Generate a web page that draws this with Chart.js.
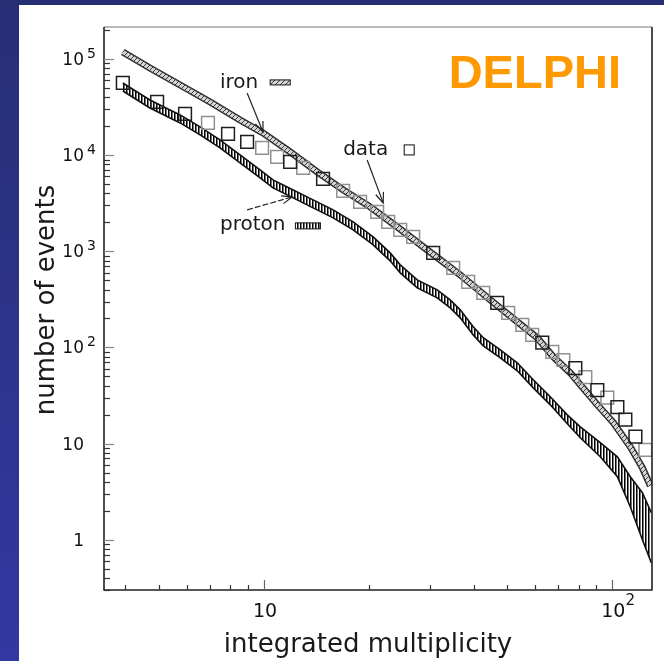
<!DOCTYPE html>
<html>
<head>
<meta charset="utf-8">
<title>DELPHI - integrated multiplicity</title>
<script src="https://cdn.jsdelivr.net/npm/chart.js@4.4.1/dist/chart.umd.min.js"></script>
<style>
  html, body { margin:0; padding:0; background:#2a3380; overflow:hidden; }
  canvas { display:block; }
</style>
</head>
<body>
<canvas id="chart" width="664" height="661"></canvas>
<script>
// ---------- data ----------
const ironX = [3.93, 4.70, 5.74, 7.00, 8.53, 9.93, 11.88, 14.20, 16.87, 20.16, 24.12, 29.40, 36.58, 44.61, 53.33, 60.87, 67.68, 75.75, 80.91, 90.56, 100.7, 112.6, 122.0, 128.6];
const ironY = [118200, 80600, 53660, 35730, 23220, 17010, 10800, 6690, 4346, 2894, 1793, 1034, 568, 312, 184.6, 125.8, 79.9, 54.4, 40.9, 25.3, 16.45, 9.26, 5.60, 3.64];

const protonX = [3.93, 4.70, 5.74, 6.55, 7.47, 8.53, 9.74, 10.61, 11.65, 13.29, 15.79, 18.02, 20.57, 23.02, 24.60, 27.53, 31.42, 34.23, 36.58, 39.86, 42.60, 47.68, 53.33, 59.29, 66.34, 74.26, 80.91, 92.35, 103.4, 112.6, 122.0, 129.4];
const protonHigh = [56300, 37480, 26180, 19650, 14390, 10050, 7020, 5524, 4670, 3677, 2694, 2021, 1411, 962, 722, 504, 397, 312, 246, 164, 126, 94.4, 69.2, 46.1, 30.7, 19.9, 14.9, 10.2, 7.29, 4.52, 3.08, 1.91];
const protonLow = [46490, 30950, 21610, 16220, 11880, 8297, 5794, 4560, 3857, 3036, 2225, 1669, 1165, 795, 596, 416, 328, 258, 203, 135, 104, 78.0, 57.1, 38.0, 25.3, 16.1, 11.5, 7.29, 4.52, 2.20, 1.00, 0.577];

const dataBlackX = [3.93, 4.93, 5.93, 7.88, 8.94, 11.88, 14.77, 30.59, 46.72, 62.93, 78.30, 90.56, 103.4, 109.0, 116.5];
const dataBlackY = [56300, 35700, 26800, 16600, 13700, 8490, 5660, 962, 291, 112, 61, 36, 24, 17.7, 11.8];
const dataGreyX = [6.90, 9.87, 10.90, 12.95, 16.87, 18.87, 21.12, 22.72, 24.60, 26.80, 34.92, 38.57, 42.60, 50.24, 55.13, 58.89, 67.24, 72.32, 83.66, 96.74, 124.4];
const dataGreyY = [21600, 11900, 9580, 7360, 4250, 3260, 2570, 2020, 1670, 1410, 671, 481, 370, 229, 172, 135, 90, 74, 49, 30, 8.6];

// tick labels
const yTickValues = [1, 10, 100, 1000, 10000, 100000];
const yTickBase = ['1', '10', '10', '10', '10', '10'];
const yTickExp = ['', '', '2', '3', '4', '5'];
const xTickValues = [10, 100];
const xTickBase = ['10', '10'];
const xTickExp = ['', '2'];

// annotations (in data coordinates)
const noteText = ['iron', 'data', 'proton'];
const noteX = [7.47, 16.87, 7.47];
const noteY = [50000, 10050, 1669];
const arrowFromX = [8.94, 19.77, 8.94];
const arrowFromY = [44330, 8913, 2694];
const arrowToX = [9.93, 21.98, 12.04];
const arrowToY = [17420, 3186, 3677];

const xTitle = 'integrated multiplicity';
const yTitle = 'number of events';
const badge = 'DELPHI';

// ---------- rendering ----------
const FONT = '"DejaVu Sans", "Liberation Sans", sans-serif';
const canvas = document.getElementById('chart');
const mainCtx = canvas.getContext('2d');

function pts(xs, ys) { return xs.map((x, i) => ({ x: x, y: ys[i] })); }

function makePattern(kind) {
  const p = document.createElement('canvas');
  const g = p.getContext('2d');
  if (kind === 'vert') {
    p.width = 3; p.height = 3;
    g.fillStyle = '#ffffff'; g.fillRect(0, 0, 3, 3);
    g.fillStyle = '#000000'; g.fillRect(0, 0, 1, 3);
    g.fillStyle = '#777777'; g.fillRect(1, 0, 1, 3);
  } else {
    p.width = 5; p.height = 5;
    g.fillStyle = '#d6d6d6'; g.fillRect(0, 0, 5, 5);
    g.strokeStyle = '#3a3a3a'; g.lineWidth = 1;
    g.beginPath();
    g.moveTo(0, 5); g.lineTo(5, 0);
    g.moveTo(-1, 1); g.lineTo(1, -1);
    g.moveTo(4, 6); g.lineTo(6, 4);
    g.stroke();
  }
  return mainCtx.createPattern(p, 'repeat');
}
const vertPattern = makePattern('vert');
const diagPattern = makePattern('diag');

function arrow(c, x1, y1, x2, y2, dash) {
  c.save();
  c.strokeStyle = '#222'; c.lineWidth = 1.2;
  if (dash) c.setLineDash(dash);
  c.beginPath(); c.moveTo(x1, y1); c.lineTo(x2, y2); c.stroke();
  c.setLineDash([]);
  const a = Math.atan2(y2 - y1, x2 - x1), L = 11, w = 0.38;
  c.beginPath();
  c.moveTo(x2 - L * Math.cos(a - w), y2 - L * Math.sin(a - w));
  c.lineTo(x2, y2);
  c.lineTo(x2 - L * Math.cos(a + w), y2 - L * Math.sin(a + w));
  c.stroke();
  c.restore();
}

const decor = {
  id: 'decor',
  beforeDraw(chart) {
    const c = chart.ctx;
    c.save();
    const g = c.createLinearGradient(0, 0, 0, chart.height);
    g.addColorStop(0, '#262f74');
    g.addColorStop(1, '#3338a2');
    c.fillStyle = g;
    c.fillRect(0, 0, chart.width, chart.height);
    c.fillStyle = '#ffffff';
    c.fillRect(19, 5, chart.width - 19, chart.height - 5);
    c.restore();
  },
  afterDraw(chart) {
    const c = chart.ctx;
    const xs = chart.scales.x, ys = chart.scales.y;
    const A = chart.chartArea;
    c.save();
    // frame
    c.lineWidth = 1.2; c.strokeStyle = '#777';
    c.beginPath(); c.moveTo(A.left, A.top); c.lineTo(A.right, A.top); c.stroke();
    c.lineWidth = 1.6; c.strokeStyle = '#222';
    c.beginPath();
    c.moveTo(A.left, A.top); c.lineTo(A.left, A.bottom); c.lineTo(A.right, A.bottom); c.lineTo(A.right, A.top);
    c.stroke();

    // inward ticks, y axis
    c.lineWidth = 1.2;
    for (let d = -1; d <= 5; d++) {
      for (let k = 1; k <= 9; k++) {
        const v = k * Math.pow(10, d);
        if (v < ys.min || v > ys.max) continue;
        const y = Math.round(ys.getPixelForValue(v)) + 0.5;
        const len = (k === 1) ? 10 : 6;
        c.strokeStyle = (k === 1) ? '#888' : '#333';
        c.beginPath(); c.moveTo(A.left, y); c.lineTo(A.left + len, y); c.stroke();
      }
    }
    // inward ticks, x axis
    for (let d = 0; d <= 2; d++) {
      for (let k = 1; k <= 9; k++) {
        const v = k * Math.pow(10, d);
        if (v < xs.min || v > xs.max) continue;
        const x = Math.round(xs.getPixelForValue(v)) + 0.5;
        const len = (k === 1) ? 10 : 5;
        c.strokeStyle = (k === 1) ? '#666' : '#333';
        c.beginPath(); c.moveTo(x, A.bottom); c.lineTo(x, A.bottom - len); c.stroke();
      }
    }

    // tick labels
    c.fillStyle = '#111';
    c.textBaseline = 'alphabetic';
    yTickValues.forEach((v, i) => {
      const y = ys.getPixelForValue(v);
      c.font = '17px ' + FONT;
      c.textAlign = 'right';
      c.fillText(yTickBase[i], A.left - 20, y + 6);
      if (yTickExp[i]) {
        c.font = '14px ' + FONT;
        c.textAlign = 'left';
        c.fillText(yTickExp[i], A.left - 17, y - 1);
      }
    });
    xTickValues.forEach((v, i) => {
      const x = xs.getPixelForValue(v);
      c.font = '19px ' + FONT;
      c.textAlign = 'center';
      c.fillText(xTickBase[i], x + 1, A.bottom + 27);
      if (xTickExp[i]) {
        const w = c.measureText(xTickBase[i]).width;
        c.font = '15px ' + FONT;
        c.textAlign = 'left';
        c.fillText(xTickExp[i], x + 1 + w / 2, A.bottom + 15);
      }
    });

    // axis titles
    c.font = '26px ' + FONT;
    c.textAlign = 'center';
    c.fillStyle = '#1a1a1a';
    c.fillText(xTitle, 368, 652);
    c.save();
    c.translate(54, 300);
    c.rotate(-Math.PI / 2);
    c.fillText(yTitle, 0, 0);
    c.restore();

    // annotations
    c.font = '20px ' + FONT;
    c.textAlign = 'left';
    noteText.forEach((t, i) => {
      const x = xs.getPixelForValue(noteX[i]);
      const y = ys.getPixelForValue(noteY[i]);
      c.fillStyle = '#1a1a1a';
      c.fillText(t, x, y);
      const end = x + c.measureText(t).width;
      c.lineWidth = 1.1; c.strokeStyle = '#222';
      if (t === 'iron') {
        c.fillStyle = diagPattern;
        c.fillRect(end + 12, y - 8, 20, 5);
        c.strokeRect(end + 12, y - 8, 20, 5);
      } else if (t === 'data') {
        c.strokeRect(end + 16, y - 10, 10, 10);
      } else {
        c.fillStyle = vertPattern;
        c.fillRect(end + 10, y - 7, 25, 6);
        c.strokeRect(end + 10, y - 7, 25, 6);
      }
      arrow(c,
        xs.getPixelForValue(arrowFromX[i]), ys.getPixelForValue(arrowFromY[i]),
        xs.getPixelForValue(arrowToX[i]), ys.getPixelForValue(arrowToY[i]),
        t === 'proton' ? [6, 2] : null);
    });

    // DELPHI badge
    c.font = 'bold 47px "Liberation Sans", Arial, sans-serif';
    c.textAlign = 'right';
    c.fillStyle = '#ff9900';
    c.fillText(badge, 621, 88);
    c.restore();
  }
};

new Chart(mainCtx, {
  type: 'line',
  data: {
    datasets: [
      { label: 'data', data: pts(dataBlackX, dataBlackY), showLine: false, pointStyle: 'rect',
        pointRadius: 9, pointBorderColor: '#1e1e1e', pointBackgroundColor: 'rgba(0,0,0,0)',
        pointBorderWidth: 1.5, borderColor: '#1e1e1e', order: 0 },
      { label: 'data (grey)', data: pts(dataGreyX, dataGreyY), showLine: false, pointStyle: 'rect',
        pointRadius: 9, pointBorderColor: '#909090', pointBackgroundColor: 'rgba(0,0,0,0)',
        pointBorderWidth: 1.5, borderColor: '#909090', order: 1 },
      { label: 'iron', data: pts(ironX, ironY), borderColor: diagPattern, borderWidth: 4,
        pointRadius: 0, tension: 0, fill: false, order: 2 },
      { label: 'iron outline', data: pts(ironX, ironY), borderColor: '#333', borderWidth: 7,
        pointRadius: 0, tension: 0, fill: false, order: 3 },
      { label: 'proton upper', data: pts(protonX, protonHigh), borderColor: '#111', borderWidth: 1.6,
        pointRadius: 0, tension: 0, fill: false, order: 4 },
      { label: 'proton lower', data: pts(protonX, protonLow), borderColor: '#111', borderWidth: 1.6,
        pointRadius: 0, tension: 0, fill: 4, backgroundColor: vertPattern, order: 5 }
    ]
  },
  options: {
    responsive: false,
    animation: false,
    devicePixelRatio: 1,
    layout: { padding: { left: 104, top: 27, right: 12, bottom: 71 } },
    plugins: { legend: { display: false }, tooltip: { enabled: false } },
    scales: {
      x: { type: 'logarithmic', min: 3.47, max: 130, display: false },
      y: { type: 'logarithmic', min: 0.302, max: 215000, display: false }
    }
  },
  plugins: [decor]
});
</script>
</body>
</html>
